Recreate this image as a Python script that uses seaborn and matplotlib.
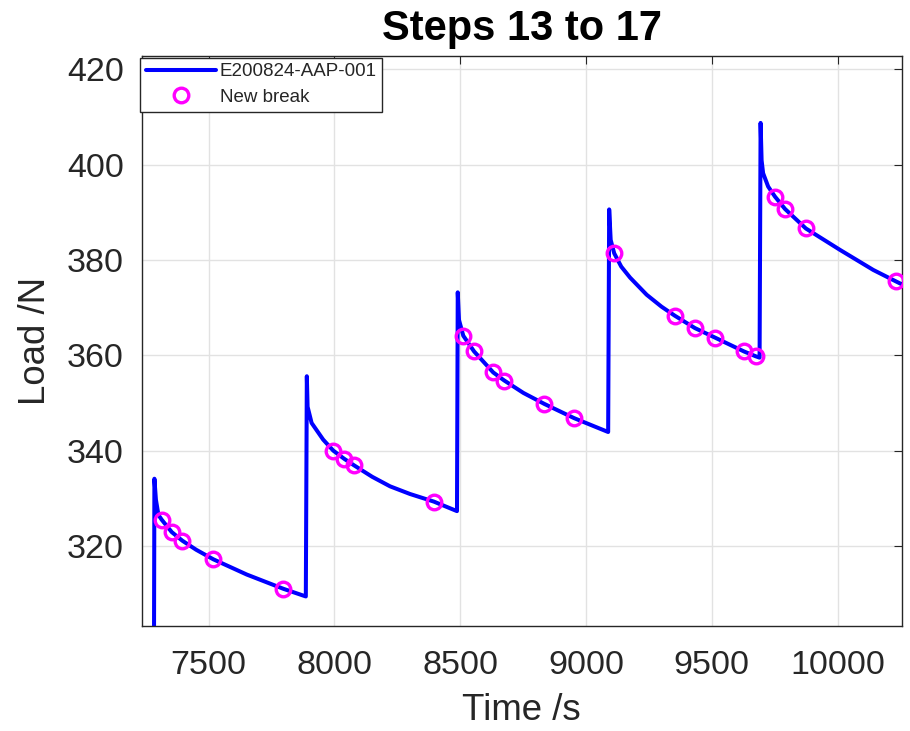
import matplotlib
matplotlib.use("Agg")
import matplotlib.pyplot as plt
import pandas as pd
import seaborn as sns

# Load record for steps 13-17 (time in s, load in N)
time_s = [
    7233, 7282,
    7284, 7290, 7300, 7313, 7353, 7395, 7450, 7518, 7651, 7797, 7886,
    7890, 7893, 7909, 7955, 7995, 8038, 8078, 8150, 8221, 8300, 8395, 8487,
    8490, 8495, 8512, 8555, 8631, 8675, 8751, 8834, 8953, 9088,
    9092, 9098, 9112, 9140, 9175, 9241, 9300, 9353, 9433, 9513, 9628, 9674, 9690,
    9694, 9698, 9704, 9724, 9751, 9791, 9874, 10010, 10142, 10232, 10255,
]
load_n = [
    292.0, 291.2,
    334.1, 329.7, 326.5, 325.5, 322.9, 321.1, 319.2, 317.2, 314.0, 311.0, 309.4,
    355.6, 349.2, 345.8, 342.3, 340.0, 338.3, 336.9, 334.5, 332.5, 330.9, 329.3, 327.3,
    373.2, 367.4, 364.1, 360.8, 356.4, 354.7, 352.1, 349.8, 346.8, 343.9,
    390.6, 384.2, 381.4, 378.6, 376.3, 372.7, 370.2, 368.3, 365.7, 363.7, 360.8, 359.8, 359.5,
    408.75, 400.9, 398.2, 395.4, 393.3, 390.7, 386.6, 382.1, 377.9, 375.5, 374.9,
]

# Detected new fibre breaks
break_time = [
    7313, 7353, 7395, 7518, 7797,
    7995, 8038, 8078, 8395,
    8512, 8555, 8631, 8675, 8834, 8953,
    9112, 9353, 9433, 9513, 9628, 9674,
    9751, 9791, 9874, 10232,
]
break_load = [
    325.5, 322.9, 321.1, 317.2, 311.0,
    340.0, 338.3, 336.9, 329.3,
    364.1, 360.8, 356.4, 354.7, 349.8, 346.8,
    381.4, 368.3, 365.7, 363.7, 360.8, 359.8,
    393.3, 390.7, 386.6, 375.5,
]

x_ticks = [7500, 8000, 8500, 9000, 9500, 10000]
y_ticks = [320, 340, 360, 380, 400, 420]

sns.set_style("white")
plt.rcParams["font.family"] = ["Liberation Sans", "DejaVu Sans"]

W, H = 910, 731
fig = plt.figure(figsize=(W / 100, H / 100), dpi=100)
ax = fig.add_axes([141.7 / W, 1 - 626 / H, (901.7 - 141.7) / W, (626 - 55.7) / H])

curve = pd.DataFrame({"Time": time_s, "Load": load_n})
breaks = pd.DataFrame({"Time": break_time, "Load": break_load})

sns.lineplot(data=curve, x="Time", y="Load", sort=False, estimator=None,
             color="#0000ff", linewidth=2.9, label="E200824-AAP-001",
             ax=ax, zorder=2)
sns.lineplot(data=breaks, x="Time", y="Load", sort=False, estimator=None,
             color="#ff00ff", linestyle="", marker="o", markersize=10.5,
             markerfacecolor="none", markeredgecolor="#ff00ff",
             markeredgewidth=2.4, label="New break", ax=ax, zorder=3)

ax.set_xlim(7233.5, 10255)
ax.set_ylim(303.2, 422.85)
ax.set_xticks(x_ticks)
ax.set_yticks(y_ticks)

axis_color = "#262626"
ax.grid(True, color="#e2e2e2", linewidth=1.0)
ax.set_axisbelow(True)
for side in ["left", "right", "top", "bottom"]:
    ax.spines[side].set_visible(True)
    ax.spines[side].set_color(axis_color)
    ax.spines[side].set_linewidth(1.0)

ax.tick_params(axis="both", direction="in", length=6, width=0.8,
               top=True, right=True, colors=axis_color, labelsize=24.5)
ax.tick_params(axis="x", pad=17)
ax.tick_params(axis="y", pad=13)

ax.set_xlabel("Time /s", fontsize=26.4, color=axis_color, labelpad=9)
ax.set_ylabel("Load /N", fontsize=26.4, color=axis_color, labelpad=10)
ax.set_title("Steps 13 to 17", fontsize=30, fontweight="bold", color="black", pad=11)

leg = ax.legend(loc="upper left", bbox_to_anchor=(140 / W, 1 - 57.7 / H),
                bbox_transform=fig.transFigure, fontsize=13.5, frameon=True,
                fancybox=False, borderaxespad=0, borderpad=0.3,
                handlelength=3.75, handletextpad=0.2, labelspacing=0.45)
leg.get_frame().set_edgecolor(axis_color)
leg.get_frame().set_linewidth(1.0)
leg.get_frame().set_alpha(1.0)

fig.savefig("out.png", dpi=100)
